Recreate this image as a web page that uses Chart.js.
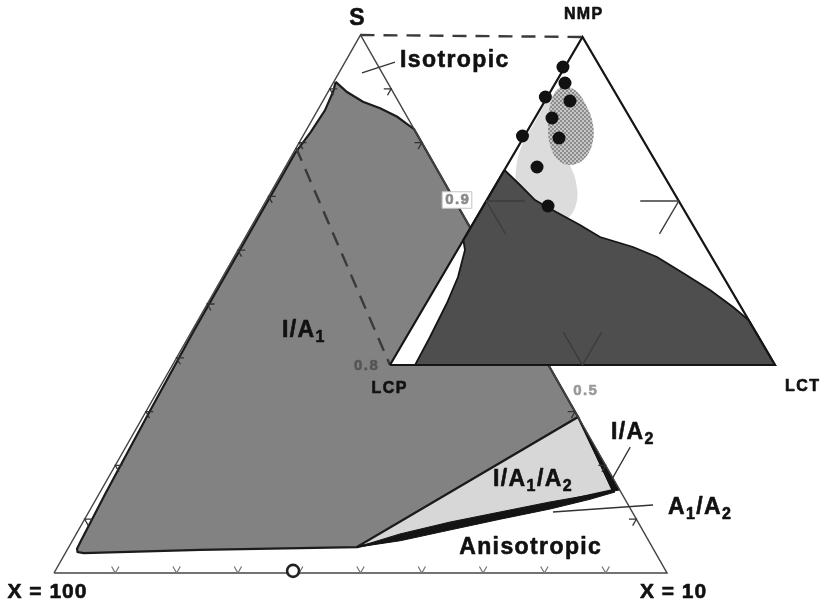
<!DOCTYPE html>
<html>
<head>
<meta charset="utf-8">
<script src="https://cdn.jsdelivr.net/npm/chart.js@4.4.1/dist/chart.umd.min.js"></script>
<style>
  html, body { margin: 0; padding: 0; background: #ffffff; overflow: hidden; }
  canvas { display: block; }
</style>
</head>
<body>
<canvas id="phase" width="823" height="605"></canvas>
<script>
// ---------------------------------------------------------------
// Main ternary diagram, compositions as [r, s]:
//   r = share of the "X = 10" corner, s = share of the S corner.
// ---------------------------------------------------------------
const tickFractions = [0.1, 0.2, 0.3, 0.4, 0.5, 0.6, 0.7, 0.8, 0.9];

// I/A1 biphasic field
const regionIA1 = [
  [0.003, 0.913], [0.031, 0.894], [0.066, 0.876], [0.100, 0.864], [0.136, 0.848],
  [0.158, 0.835], [0.175, 0.825], [0.710, 0.290], [0.470, 0.048], [0.217, 0.043],
  [0.030, 0.037], [0.019, 0.039], [0.015, 0.045], [0.014, 0.060], [0.010, 0.150],
  [0.006, 0.300], [0.003, 0.450], [0.003, 0.780], [0.009, 0.820], [0.012, 0.860],
  [0.008, 0.895]
];
// I/A1/A2 triphasic triangle
const regionIA1A2 = [[0.470, 0.048], [0.710, 0.290], [0.835, 0.154]];
// A1/A2 band
const regionA1A2 = [
  [0.470, 0.048], [0.528, 0.0725], [0.599, 0.0948], [0.671, 0.1134], [0.743, 0.132],
  [0.802, 0.145], [0.835, 0.154], [0.840, 0.1506], [0.806, 0.137], [0.750, 0.119],
  [0.678, 0.100], [0.606, 0.080], [0.535, 0.060]
];
// I/A2 sliver along the S - (X = 10) side
const regionIA2 = [[0.712, 0.288], [0.8457, 0.1543], [0.835, 0.152]];
// open-circle sample on the base line
const baseSample = [[0.388, 0.004]];
// label leaders: Isotropic, I/A2, A1/A2
const leaders = [
  [[0.0377, 0.9294], [0.0814, 0.9498]],
  [[0.823, 0.234], [0.823, 0.175]],
  [[0.7573, 0.1134], [0.914, 0.1264]]
];

// ---------------------------------------------------------------
// Enlarged NMP corner (NMP 0.8 ... 1.0), compositions as [t, n]
// normalised over that range: t = LCT share, n = NMP share.
// ---------------------------------------------------------------
const insetTickFractions = [0.5];

const insetRegionDark = [
  [0, 0.5945], [0.0633, 0.5488], [0.1251, 0.503], [0.167, 0.4817], [0.2801, 0.4268],
  [0.3504, 0.3902], [0.4513, 0.3598], [0.5289, 0.3293], [0.6208, 0.2805], [0.7168, 0.2287],
  [0.8025, 0.1768], [0.8628, 0.1372], [0.918, 0.0823], [1, 0], [0.065, 0],
  [0.0612, 0.0854], [0.0535, 0.189], [0.0425, 0.2683], [0.0195, 0.3506], [0, 0.3811]
];
const insetCloudLight = [
  [0.0034, 0.814], [0.0062, 0.7409], [0.0075, 0.6707], [0.0301, 0.5945], [0.0708, 0.5183],
  [0.1241, 0.4634], [0.1846, 0.436], [0.2335, 0.4421], [0.2392, 0.4878], [0.2042, 0.5579],
  [0.1498, 0.625], [0.091, 0.7012], [0.043, 0.7713]
];
const insetCloudDark = [
  [0.0215, 0.8506], [0.0613, 0.8384], [0.1128, 0.7927], [0.1615, 0.7317], [0.1894, 0.6707],
  [0.1888, 0.625], [0.1626, 0.6098], [0.1239, 0.625], [0.0803, 0.6707], [0.0446, 0.7317],
  [0.0193, 0.7927], [0.0125, 0.8323]
];
const insetSamples = [
  [-0.005, 0.9085], [0.0246, 0.8598], [0.0651, 0.8049], [-0.005, 0.8171], [0.0443, 0.753],
  [-0.005, 0.6982], [0.0929, 0.6921], [0.08, 0.6037], [0.168, 0.4848]
];

// ---------------------------------------------------------------
// Geometry helpers: composition -> plot coordinates
// ---------------------------------------------------------------
const SKEW = 0.5;                                         // apex sits over the middle of the base
const INSET = { x0: 0.5481, y0: 0.3866, w: 0.6281, h: 0.6097 }; // placement of the enlarged corner
const mainXY = ([r, s]) => ({ x: r + SKEW * s, y: s });
const insetXY = ([t, n]) => ({ x: INSET.x0 + INSET.w * (t + SKEW * n), y: INSET.y0 + INSET.h * n });
const GAP = { x: null, y: null };

function closed(points, conv) {
  const d = points.map(conv);
  d.push(conv(points[0]));
  return d;
}
function segments(list, conv) {
  const d = [];
  list.forEach(seg => { seg.forEach(p => d.push(conv(p))); d.push(GAP); });
  return d;
}
// ternary tick marks: short strokes parallel to the two other sides
function baseTicks(fracs, L) {
  return fracs.map(f => [[f - L, L], [f, 0], [f, L]]);
}
function sideTicks(fracs, L) {
  const out = [];
  fracs.forEach(f => {
    out.push([[L, f], [0, f], [L, f - L]]);                 // left side
    out.push([[1 - f - L, f], [1 - f, f], [1 - f, f - L]]); // right side
  });
  return out;
}

function stipple(bg, dot) {
  const c = document.createElement('canvas');
  c.width = 4; c.height = 4;
  const g = c.getContext('2d');
  g.fillStyle = bg; g.fillRect(0, 0, 4, 4);
  g.fillStyle = dot; g.fillRect(0, 0, 2, 2); g.fillRect(2, 2, 2, 2);
  return g.createPattern(c, 'repeat');
}

const NONE = 'rgba(0,0,0,0)';
function line(data, style) {
  return Object.assign({
    data, showLine: true, pointRadius: 0, tension: 0, fill: false,
    borderWidth: 1, borderColor: NONE, backgroundColor: NONE
  }, style);
}

// drawing order: first entry is painted first (underneath)
const layers = [
  line(closed(regionIA1, mainXY), { fill: 'shape', backgroundColor: '#828282', borderColor: '#1c1c1c', borderWidth: 2.2 }),
  line(closed(regionIA1A2, mainXY), { fill: 'shape', backgroundColor: '#d7d7d7', borderColor: '#1c1c1c', borderWidth: 2.2 }),
  line(closed(regionA1A2, mainXY), { fill: 'shape', backgroundColor: '#141414', borderColor: '#141414', borderWidth: 1 }),
  line(closed(regionIA2, mainXY), { fill: 'shape', backgroundColor: '#141414', borderColor: '#141414', borderWidth: 1 }),
  line(closed([[0, 0], [1, 0], [0, 1]], mainXY), { borderColor: '#454545', borderWidth: 1.5 }),
  line(segments(baseTicks(tickFractions, 0.012), mainXY), { borderColor: '#7a7a7a', borderWidth: 1.3 }),
  line(segments(sideTicks(tickFractions, 0.012), mainXY), { borderColor: '#333333', borderWidth: 1.3 }),
  line(segments(leaders, mainXY), { borderColor: '#333333', borderWidth: 1.3 }),
  line([mainXY([0, 1]), insetXY([0, 1]), GAP, mainXY([0, 0.79]), insetXY([0, 0])],
       { borderColor: '#3a3a3a', borderWidth: 2.4, borderDash: [14, 9] }),
  { data: baseSample.map(mainXY), showLine: false, pointRadius: 6, pointBackgroundColor: '#ffffff',
    pointBorderColor: '#222222', pointBorderWidth: 2.6 },
  // enlarged NMP corner
  line(closed([[0, 0], [1, 0], [0, 1]], insetXY), { fill: 'shape', backgroundColor: '#ffffff' }),
  line(closed(insetCloudLight, insetXY), { fill: 'shape', backgroundColor: '#dcdcdc', tension: 0.4 }),
  line(closed(insetCloudDark, insetXY), { fill: 'shape', backgroundColor: stipple('#c6c6c6', '#8c8c8c'), tension: 0.4 }),
  line(closed(insetRegionDark, insetXY), { fill: 'shape', backgroundColor: '#4e4e4e', borderColor: '#151515', borderWidth: 1.8 }),
  line(closed([[0, 0], [1, 0], [0, 1]], insetXY), { borderColor: '#151515', borderWidth: 2.2 }),
  line(segments(baseTicks(insetTickFractions, 0.1).concat(sideTicks(insetTickFractions, 0.1)), insetXY),
       { borderColor: '#3c3c3c', borderWidth: 1.4 }),
  { data: insetSamples.map(insetXY), showLine: false, pointRadius: 6.5, pointBackgroundColor: '#111111',
    pointBorderWidth: 0 }
];
layers.forEach((ds, i) => { ds.order = layers.length - i; });

// ---------------------------------------------------------------
// Text: field names, corner names and axis values
// parts: [text, isSubscript]
// ---------------------------------------------------------------
const mainText = [
  { parts: [['S', 0]], at: [-0.021, 1.030] },
  { parts: [['Isotropic', 0]], at: [0.0886, 0.9517], align: 'left' },
  { parts: [['I/A', 0], ['1', 1]], at: [0.147, 0.4498], align: 'left' },
  { parts: [['I/A', 0], ['1', 1], ['/A', 0], ['2', 1]], at: [0.6297, 0.1729], align: 'left' },
  { parts: [['I/A', 0], ['2', 1]], at: [0.7785, 0.2602], align: 'left' },
  { parts: [['A', 0], ['1', 1], ['/A', 0], ['2', 1]], at: [0.9412, 0.1208], align: 'left' },
  { parts: [['Anisotropic', 0]], at: [0.7533, 0.0465] },
  { parts: [['X = 100', 0]], at: [0.0062, -0.0353], size: 21, spacing: 1 },
  { parts: [['X = 10', 0]], at: [1.0275, -0.0353], size: 21, spacing: 1 }
];
const insetText = [
  { parts: [['NMP', 0]], at: [-0.032, 1.067], size: 16 },
  { parts: [['0.8', 0]], at: [-0.061, -0.003], size: 15, color: '#555555' },
  { parts: [['LCP', 0]], at: [0.034, -0.0732], size: 16 },
  { parts: [['0.9', 0]], at: [-0.0775, 0.503], size: 15, color: '#8a8a8a', box: true },
  { parts: [['0.5', 0]], at: [0.5461, -0.0793], size: 15, color: '#9a9a9a' },
  { parts: [['LCT', 0]], at: [1.1037, -0.0671], size: 16 }
];

const FAMILY = '"Liberation Sans", Arial, Helvetica, sans-serif';

function drawRich(ctx, lab, px, py) {
  const size = lab.size || 23;
  const sub = Math.round(size * 0.7);
  const spacing = lab.spacing != null ? lab.spacing : 1.4;
  const color = lab.color || '#111111';
  const runs = [];
  let width = 0;
  lab.parts.forEach(([txt, isSub]) => {
    const fs = isSub ? sub : size;
    ctx.font = 'bold ' + fs + 'px ' + FAMILY;
    for (const ch of txt) {
      const w = ctx.measureText(ch).width;
      runs.push({ ch, fs, dy: isSub ? size * 0.3 : 0, w });
      width += w + spacing;
    }
  });
  width -= spacing;
  let x = lab.align === 'left' ? px : px - width / 2;
  if (lab.box) {
    ctx.fillStyle = '#ffffff';
    ctx.strokeStyle = '#c4c4c4';
    ctx.lineWidth = 1;
    ctx.fillRect(x - 3, py - size * 0.55, width + 6, size * 1.1);
    ctx.strokeRect(x - 3, py - size * 0.55, width + 6, size * 1.1);
  }
  ctx.fillStyle = color;
  ctx.strokeStyle = color;
  ctx.lineWidth = 0.6;
  ctx.lineJoin = 'round';
  ctx.textBaseline = 'middle';
  ctx.textAlign = 'left';
  runs.forEach(r => {
    ctx.font = 'bold ' + r.fs + 'px ' + FAMILY;
    ctx.fillText(r.ch, x, py + r.dy);
    ctx.strokeText(r.ch, x, py + r.dy);
    x += r.w + spacing;
  });
}

const diagramText = {
  id: 'diagramText',
  afterDatasetsDraw(chart) {
    const { ctx, scales: { x, y } } = chart;
    ctx.save();
    const put = (lab, conv) => {
      const p = conv(lab.at);
      drawRich(ctx, lab, x.getPixelForValue(p.x), y.getPixelForValue(p.y));
    };
    mainText.forEach(l => put(l, mainXY));
    insetText.forEach(l => put(l, insetXY));
    ctx.restore();
  }
};

new Chart(document.getElementById('phase'), {
  type: 'scatter',
  data: { datasets: layers },
  options: {
    responsive: false,
    devicePixelRatio: 1,
    animation: false,
    events: [],
    layout: { padding: 0, autoPadding: false },
    plugins: { legend: { display: false }, tooltip: { enabled: false } },
    scales: {
      x: { type: 'linear', display: false, min: -0.08809, max: 1.25449 },
      y: { type: 'linear', display: false, min: -0.05948, max: 1.06506 }
    }
  },
  plugins: [diagramText]
});
</script>
</body>
</html>
